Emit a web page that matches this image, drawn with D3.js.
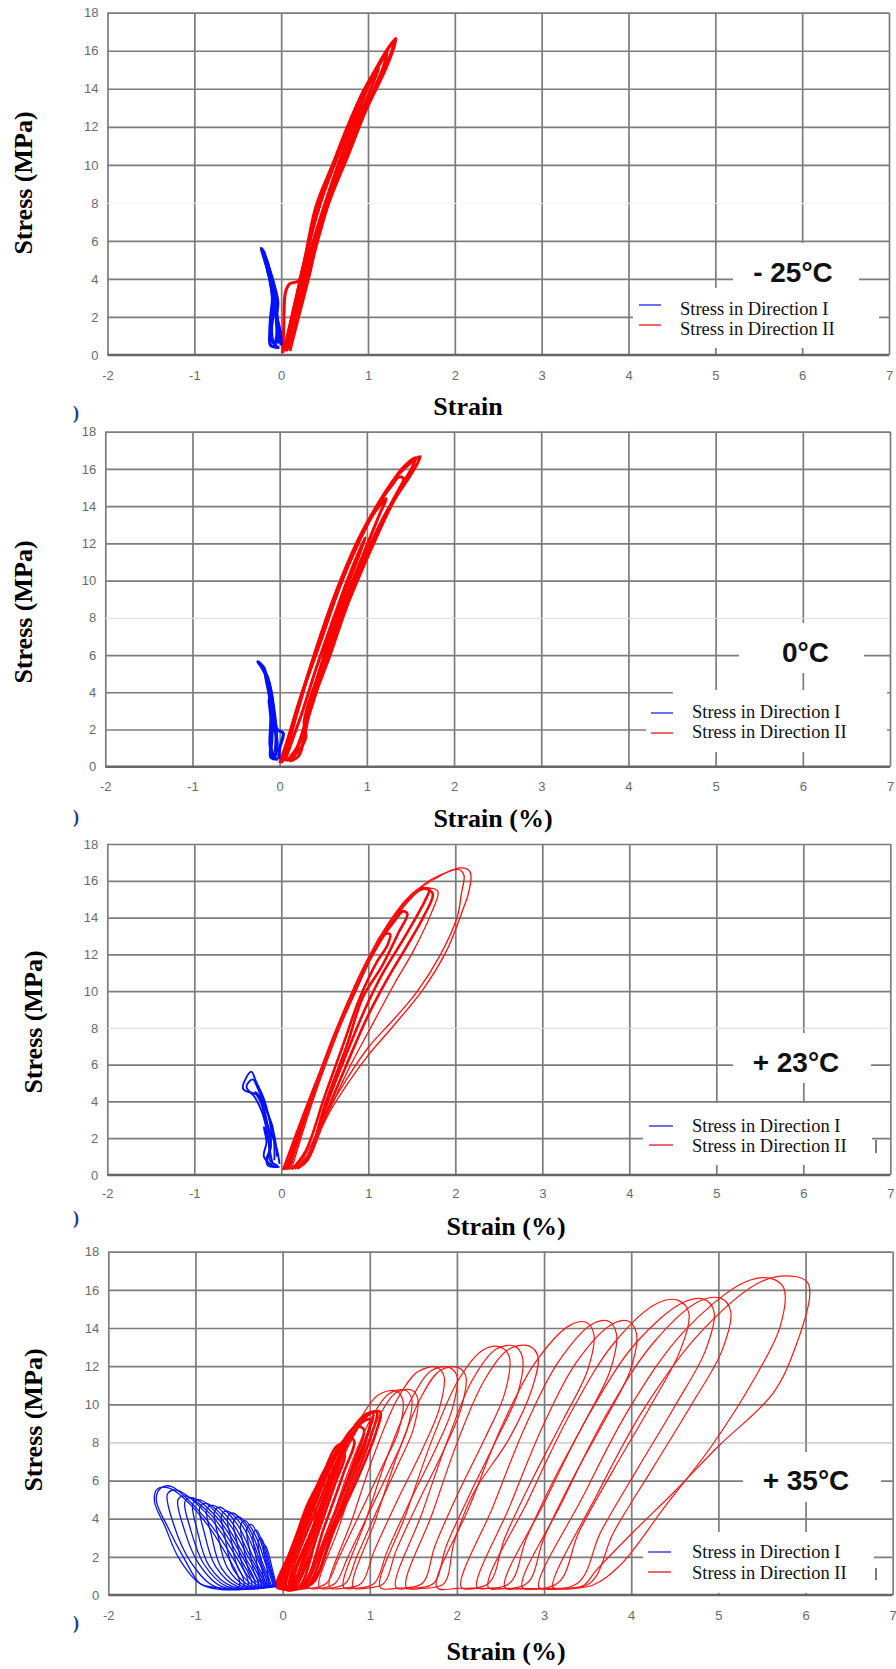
<!DOCTYPE html>
<html>
<head>
<meta charset="utf-8">
<script src="https://cdn.jsdelivr.net/npm/d3@7"></script>
<style>
  body { margin: 0; background: #fff; }
  svg { display: block; }
</style>
</head>
<body>
<svg width="896" height="1669"></svg>
<script>
// ---- chart values (strain %, stress MPa) ----
const strainTicks = [-2, -1, 0, 1, 2, 3, 4, 5, 6, 7];
const stressTicks = [0, 2, 4, 6, 8, 10, 12, 14, 16, 18];
const temperatures = ["- 25°C", "0°C", "+ 23°C", "+ 35°C"];
const strainTitles = ["Strain", "Strain (%)", "Strain (%)", "Strain (%)"];
const stressTitle = "Stress (MPa)";
const seriesNames = ["Stress in Direction I", "Stress in Direction II"];

// -25°C
const redM25 = [
  [[0.02,0.1],[0.03,1.5],[0.05,3.3],[0.1,3.75],[0.2,3.9],[0.25,4.6],[0.4,7.8],[0.6,10.1],[0.92,13.6],[1.15,15.5],[1.32,16.65],[1.3,16.2],[1.2,15.0],[0.98,12.9],[0.75,10.4],[0.5,7.8],[0.33,4.3],[0.2,2.0],[0.1,0.2]],
  [[0.05,0.2],[0.12,1.6],[0.24,4.4],[0.42,7.6],[0.63,10.2],[0.94,13.5],[1.16,15.6],[1.3,16.5],[1.26,15.8],[1.1,14.3],[0.96,12.8],[0.72,10.1],[0.48,7.5],[0.31,4.5],[0.18,1.9],[0.09,0.3]],
  [[0.04,0.3],[0.14,2.4],[0.27,4.9],[0.44,7.9],[0.66,10.6],[0.9,13.2],[1.1,15.0],[1.22,15.9],[1.18,15.2],[1.0,13.2],[0.78,10.6],[0.55,8.0],[0.36,5.0],[0.2,2.3],[0.1,0.4]],
  [[0.06,0.2],[0.16,2.6],[0.3,5.5],[0.46,8.1],[0.7,11.1],[0.95,13.9],[1.12,15.1],[1.05,14.2],[0.85,11.9],[0.62,9.2],[0.42,6.2],[0.25,3.4],[0.12,0.8],[0.06,0.3]],
  [[0.03,0.2],[0.2,3.4],[0.36,6.6],[0.55,9.4],[0.8,12.4],[1.0,14.3],[0.93,13.2],[0.72,10.8],[0.5,7.9],[0.3,4.9],[0.15,2.0],[0.05,0.3]]
];
const blueM25 = [
  [[-0.02,0.4],[-0.12,0.5],[-0.13,1.2],[-0.12,2.0],[-0.1,3.0],[-0.13,4.0],[-0.18,4.9],[-0.23,5.6],[-0.2,5.4],[-0.15,4.7],[-0.09,3.8],[-0.04,2.8],[-0.05,2.0],[-0.01,1.2],[0.0,0.5]],
  [[-0.04,0.35],[-0.1,0.8],[-0.11,1.6],[-0.09,2.5],[-0.11,3.5],[-0.15,4.4],[-0.2,5.2],[-0.17,5.0],[-0.12,4.2],[-0.07,3.3],[-0.06,2.4],[-0.03,1.4],[-0.03,0.6]],
  [[-0.06,0.5],[-0.12,0.9],[-0.1,1.9],[-0.08,2.9],[-0.12,3.9],[-0.16,4.5],[-0.13,4.3],[-0.08,3.4],[-0.06,2.2],[-0.05,1.0],[-0.08,0.45]]
];

// 0°C
const red0 = [
  [[0.0,0.2],[0.1,1.6],[0.23,3.6],[0.46,6.6],[0.69,9.7],[0.92,12.2],[1.15,14.3],[1.38,15.8],[1.61,16.66],[1.58,16.3],[1.45,15.3],[1.3,14.2],[1.05,11.7],[0.8,9.0],[0.57,5.9],[0.34,3.05],[0.2,1.0],[0.12,0.3]],
  [[0.03,0.3],[0.13,1.9],[0.26,4.0],[0.5,7.2],[0.73,10.2],[0.96,12.6],[1.2,14.6],[1.4,16.0],[1.56,16.6],[1.5,15.9],[1.38,15.0],[1.2,13.4],[0.98,11.0],[0.75,8.4],[0.53,5.6],[0.33,2.7],[0.22,1.2],[0.08,0.3]],
  [[0.05,0.3],[0.2,2.9],[0.4,6.0],[0.64,9.3],[0.88,12.0],[1.1,13.9],[1.3,15.2],[1.36,15.55],[1.42,15.5],[1.36,14.8],[1.18,13.3],[0.95,11.0],[0.72,8.3],[0.5,5.3],[0.3,2.3],[0.15,0.4]],
  [[0.02,0.2],[0.18,2.7],[0.36,5.5],[0.6,8.8],[0.85,11.6],[1.05,13.4],[1.22,14.4],[1.14,13.5],[0.94,11.2],[0.7,8.4],[0.46,5.2],[0.28,2.4],[0.3,1.6],[0.24,1.0],[0.1,0.3]],
  [[0.06,0.3],[0.15,1.5],[0.25,2.8],[0.42,5.3],[0.62,8.0],[0.8,10.3],[0.98,12.3],[0.92,11.5],[0.72,9.0],[0.52,6.2],[0.36,3.4],[0.3,2.0],[0.22,0.6],[0.12,0.3]]
];
const blue0 = [
  [[-0.02,0.4],[-0.1,0.5],[-0.09,1.5],[-0.1,2.0],[-0.09,3.0],[-0.12,3.9],[-0.15,4.6],[-0.18,5.3],[-0.25,5.64],[-0.2,5.3],[-0.13,4.6],[-0.09,3.8],[-0.06,2.8],[-0.03,2.0],[0.04,1.8],[0.0,1.0],[-0.01,0.4]],
  [[-0.05,0.4],[-0.1,1.0],[-0.08,2.2],[-0.1,3.3],[-0.13,4.3],[-0.17,5.1],[-0.14,4.8],[-0.1,4.0],[-0.07,3.0],[-0.04,1.9],[-0.05,0.8]],
  [[-0.08,0.45],[-0.11,1.2],[-0.1,2.6],[-0.12,3.6],[-0.09,3.2],[-0.06,2.2],[-0.03,1.2],[-0.06,0.45]]
];

// +23°C
const red23Dense = [
  [[0.02,0.27],[0.25,3.2],[0.52,6.4],[0.79,9.5],[1.05,12.05],[1.15,13.0],[1.25,13.1],[1.22,12.5],[1.1,11.6],[0.9,9.6],[0.72,7.2],[0.5,4.3],[0.28,1.3],[0.12,0.3]],
  [[0.04,0.3],[0.3,3.8],[0.57,7.0],[0.85,10.0],[1.1,12.5],[1.3,13.8],[1.4,14.35],[1.45,14.2],[1.35,13.2],[1.15,11.3],[0.94,9.7],[0.75,7.0],[0.52,4.08],[0.3,1.0],[0.15,0.35]],
  [[0.06,0.3],[0.33,4.0],[0.6,7.5],[0.88,10.5],[1.15,12.8],[1.4,14.6],[1.59,15.5],[1.7,15.55],[1.65,14.9],[1.4,12.8],[1.17,11.0],[0.96,9.0],[0.75,6.6],[0.52,3.8],[0.3,0.9],[0.18,0.35]],
  [[0.08,0.3],[0.36,4.3],[0.64,7.9],[0.92,11.0],[1.2,13.4],[1.45,15.0],[1.62,15.6],[1.74,15.3],[1.63,14.0],[1.45,12.5],[1.2,10.5],[0.98,8.5],[0.75,6.0],[0.52,3.4],[0.3,0.8],[0.2,0.4]]
];
const red23 = [
  [[0.1,0.3],[0.4,4.6],[0.68,8.3],[0.95,11.3],[1.25,13.8],[1.5,15.2],[1.7,15.6],[1.8,15.4],[1.72,14.2],[1.52,12.2],[1.3,10.4],[1.06,8.3],[0.8,6.0],[0.55,3.5],[0.32,1.1],[0.22,0.45]],
  [[0.03,0.3],[0.28,3.5],[0.55,6.8],[0.82,9.9],[1.08,12.4],[1.35,14.3],[1.6,15.6],[1.8,16.2],[1.95,16.55],[2.05,16.6],[2.1,16.3],[2.07,15.3],[2.02,14.0],[1.82,11.9],[1.55,9.9],[1.28,8.4],[1.01,7.0],[0.75,5.2],[0.52,3.35],[0.33,1.54],[0.21,0.64],[0.12,0.35]],
  [[0.12,0.35],[0.36,4.0],[0.63,7.5],[0.9,10.7],[1.17,13.2],[1.45,15.0],[1.7,16.0],[1.9,16.45],[2.05,16.7],[2.15,16.6],[2.18,16.3],[2.15,15.3],[2.1,14.6],[1.9,12.2],[1.63,10.1],[1.28,8.06],[0.98,6.4],[0.59,3.7],[0.29,1.0],[0.17,0.4]]
];
const blue23 = [
  [[-0.02,0.45],[-0.15,0.5],[-0.17,0.9],[-0.13,1.4],[-0.12,2.0],[-0.16,2.8],[-0.2,3.6],[-0.26,4.3],[-0.44,4.7],[-0.345,5.62],[-0.29,5.07],[-0.21,4.26],[-0.15,3.3],[-0.1,2.1],[-0.05,1.4],[-0.02,0.6]],
  [[-0.04,0.5],[-0.13,0.8],[-0.14,1.6],[-0.17,2.5],[-0.22,3.4],[-0.3,4.2],[-0.4,4.8],[-0.33,5.2],[-0.26,4.6],[-0.19,3.8],[-0.12,2.8],[-0.07,1.9],[-0.05,1.0]],
  [[-0.06,0.45],[-0.16,0.7],[-0.12,1.5],[-0.14,2.3],[-0.19,3.2],[-0.24,4.0],[-0.3,4.5],[-0.25,4.3],[-0.17,3.5],[-0.1,2.6],[-0.08,1.6],[-0.08,0.8]],
  [[-0.1,0.5],[-0.2,1.0],[-0.17,1.8],[-0.2,2.6],[-0.16,2.2],[-0.13,1.3],[-0.1,0.6]]
];

// +35°C
const red35Dense = [
  [[-0.07,0.4],[0.08,2.2],[0.24,4.0],[0.33,4.6],[0.38,4.3],[0.3,2.8],[0.15,0.9],[0.04,0.4]],
  [[-0.05,0.4],[0.12,2.6],[0.3,4.9],[0.43,5.8],[0.5,5.6],[0.41,4.2],[0.25,2.1],[0.1,0.4]],
  [[-0.03,0.4],[0.17,3.0],[0.38,5.6],[0.53,6.8],[0.6,6.6],[0.5,5.0],[0.32,2.6],[0.14,0.4]],
  [[-0.01,0.4],[0.21,3.3],[0.45,6.2],[0.63,7.5],[0.71,7.4],[0.6,5.8],[0.4,3.2],[0.18,0.4]],
  [[0.01,0.35],[0.25,3.6],[0.52,6.7],[0.73,8.2],[0.82,8.1],[0.7,6.4],[0.48,3.6],[0.22,0.45]],
  [[0.03,0.35],[0.28,3.8],[0.58,7.1],[0.83,8.8],[0.93,8.7],[0.82,7.0],[0.58,4.1],[0.3,1.0],[0.2,0.4]],
  [[0.05,0.35],[0.31,4.0],[0.64,7.5],[0.93,9.4],[1.04,9.55],[0.98,8.5],[0.78,6.3],[0.53,3.5],[0.3,0.8],[0.22,0.4]],
  [[0.08,0.4],[0.36,4.2],[0.72,7.9],[1.0,9.5],[1.12,9.6],[1.07,8.5],[0.87,6.2],[0.6,3.5],[0.36,0.8],[0.2,0.4]],
  [[0.0,0.35],[0.2,3.0],[0.42,5.8],[0.62,7.8],[0.7,7.9],[0.64,6.6],[0.46,4.0],[0.24,1.2],[0.12,0.35]],
  [[-0.04,0.4],[0.15,2.8],[0.34,5.2],[0.5,6.3],[0.56,6.1],[0.47,4.6],[0.3,2.3],[0.12,0.5]],
  [[0.1,0.4],[0.35,3.6],[0.62,6.8],[0.9,9.0],[1.0,9.2],[0.95,8.0],[0.75,5.6],[0.5,2.8],[0.3,0.6]],
  [[0.12,0.4],[0.38,3.8],[0.68,7.2],[0.98,9.5],[1.08,9.6],[1.02,8.4],[0.82,6.0],[0.56,3.2],[0.34,0.6]]
];
const red35 = [
  [[0.18,0.4],[0.42,3.6],[0.66,6.8],[0.9,9.3],[1.1,10.5],[1.3,10.7],[1.38,10.2],[1.33,8.6],[1.15,6.8],[0.9,4.4],[0.65,2.0],[0.5,0.6],[0.3,0.35]],
  [[0.3,0.4],[0.54,3.6],[0.78,6.8],[1.02,9.3],[1.22,10.55],[1.4,10.75],[1.48,10.3],[1.43,8.7],[1.25,6.8],[1.0,4.4],[0.75,2.0],[0.6,0.6],[0.42,0.35]],
  [[0.42,0.4],[0.65,3.6],[0.88,6.8],[1.1,9.3],[1.3,10.6],[1.48,10.75],[1.55,10.3],[1.5,8.7],[1.32,6.8],[1.08,4.4],[0.85,2.0],[0.72,0.6],[0.54,0.35]],
  [[0.54,0.4],[0.8,4.0],[1.06,7.5],[1.32,10.3],[1.55,11.7],[1.76,11.95],[1.85,11.5],[1.8,9.8],[1.6,7.6],[1.32,5.0],[1.05,2.3],[0.9,0.6],[0.68,0.35]],
  [[0.7,0.4],[0.96,4.0],[1.22,7.5],[1.48,10.3],[1.7,11.75],[1.9,11.95],[2.0,11.5],[1.95,9.8],[1.75,7.6],[1.47,5.0],[1.2,2.3],[1.05,0.6],[0.82,0.35]],
  [[0.81,0.4],[1.07,4.0],[1.33,7.5],[1.58,10.3],[1.8,11.75],[2.0,11.95],[2.1,11.5],[2.05,9.8],[1.85,7.6],[1.57,5.0],[1.3,2.3],[1.16,0.6],[0.95,0.35]],
  [[1.12,0.4],[1.42,4.3],[1.72,8.2],[2.02,11.3],[2.3,12.85],[2.5,13.0],[2.6,12.5],[2.55,10.6],[2.32,8.2],[2.02,5.4],[1.75,2.6],[1.6,0.6],[1.3,0.35]],
  [[1.3,0.4],[1.6,4.3],[1.9,8.2],[2.18,11.3],[2.45,12.9],[2.66,13.05],[2.75,12.5],[2.7,10.6],[2.46,8.2],[2.16,5.4],[1.88,2.6],[1.73,0.6],[1.45,0.35]],
  [[1.42,0.4],[1.72,4.3],[2.02,8.2],[2.32,11.3],[2.6,12.9],[2.83,13.05],[2.93,12.5],[2.86,10.8],[2.6,8.2],[2.19,5.35],[1.97,2.8],[1.85,0.6],[1.6,0.35]],
  [[1.77,0.4],[2.15,4.7],[2.52,8.9],[2.9,12.2],[3.3,14.15],[3.48,14.3],[3.57,13.7],[3.5,11.8],[3.22,9.2],[2.88,6.2],[2.55,3.0],[2.36,0.6],[2.0,0.35]],
  [[2.05,0.4],[2.42,4.7],[2.79,8.9],[3.16,12.2],[3.55,14.2],[3.74,14.35],[3.83,13.7],[3.76,11.8],[3.48,9.2],[3.13,6.2],[2.8,3.0],[2.6,0.6],[2.23,0.35]],
  [[2.23,0.4],[2.61,4.7],[2.99,8.9],[3.37,12.2],[3.78,14.2],[3.97,14.35],[4.06,13.7],[3.99,11.8],[3.7,9.2],[3.34,6.2],[3.0,3.0],[2.8,0.6],[2.36,0.35]],
  [[2.36,0.4],[2.82,5.0],[3.3,9.5],[3.8,13.2],[4.3,15.3],[4.54,15.45],[4.66,14.8],[4.56,12.8],[4.22,9.9],[3.8,6.6],[3.4,3.3],[3.15,0.6],[2.55,0.35]],
  [[2.55,0.4],[3.02,5.0],[3.52,9.5],[4.05,13.2],[4.6,15.35],[4.84,15.5],[4.95,14.85],[4.85,12.8],[4.5,9.9],[4.07,6.6],[3.65,3.3],[3.38,0.6],[2.75,0.35]],
  [[2.75,0.4],[3.22,5.0],[3.72,9.5],[4.25,13.2],[4.78,15.4],[5.03,15.55],[5.14,14.9],[5.04,12.8],[4.68,9.9],[4.24,6.6],[3.8,3.3],[3.52,0.6],[2.94,0.35]],
  [[2.94,0.4],[3.45,5.2],[3.98,9.8],[4.6,13.8],[5.3,16.4],[5.6,16.6],[5.75,16.1],[5.71,14.1],[5.42,11.4],[4.92,7.8],[4.38,4.6],[3.88,1.6],[3.55,0.5],[3.1,0.35]],
  [[3.1,0.4],[3.6,5.2],[4.15,9.8],[4.8,13.8],[5.5,16.45],[5.88,16.7],[6.02,16.4],[6.05,15.85],[5.9,13.2],[5.63,10.6],[5.0,7.8],[4.48,5.35],[4.0,3.2],[3.6,1.3],[3.45,0.5],[3.2,0.35]]
];
const blue35 = [
  [[-0.08,0.45],[-0.12,1.4],[-0.17,2.3],[-0.2,2.6],[-0.22,2.4],[-0.18,1.5],[-0.15,0.6],[-0.1,0.45]],
  [[-0.09,0.45],[-0.14,1.5],[-0.2,2.5],[-0.25,3.0],[-0.28,2.8],[-0.25,1.8],[-0.2,0.7],[-0.12,0.45]],
  [[-0.1,0.45],[-0.16,1.6],[-0.23,2.7],[-0.3,3.4],[-0.34,3.2],[-0.31,2.1],[-0.25,0.8],[-0.15,0.45]],
  [[-0.11,0.45],[-0.18,1.7],[-0.27,3.0],[-0.36,3.7],[-0.41,3.5],[-0.38,2.4],[-0.31,1.0],[-0.18,0.45]],
  [[-0.12,0.45],[-0.2,1.7],[-0.31,3.1],[-0.43,3.9],[-0.48,3.7],[-0.45,2.6],[-0.37,1.1],[-0.22,0.45]],
  [[-0.14,0.45],[-0.24,1.8],[-0.36,3.3],[-0.5,4.1],[-0.56,3.9],[-0.52,2.7],[-0.43,1.2],[-0.26,0.45]],
  [[-0.16,0.45],[-0.27,1.9],[-0.41,3.5],[-0.57,4.3],[-0.63,4.1],[-0.59,2.9],[-0.5,1.3],[-0.31,0.45]],
  [[-0.18,0.45],[-0.3,2.0],[-0.46,3.6],[-0.64,4.4],[-0.7,4.2],[-0.66,3.0],[-0.56,1.3],[-0.36,0.45]],
  [[-0.2,0.45],[-0.34,2.0],[-0.52,3.7],[-0.72,4.6],[-0.78,4.4],[-0.74,3.1],[-0.63,1.4],[-0.41,0.45]],
  [[-0.22,0.45],[-0.38,2.1],[-0.58,3.8],[-0.8,4.7],[-0.87,4.5],[-0.82,3.2],[-0.7,1.4],[-0.46,0.45]],
  [[-0.25,0.45],[-0.42,2.2],[-0.64,3.9],[-0.88,4.8],[-0.95,4.6],[-0.9,3.3],[-0.77,1.5],[-0.52,0.45]],
  [[-0.28,0.45],[-0.46,2.2],[-0.7,4.0],[-0.96,5.0],[-1.03,4.8],[-0.98,3.4],[-0.84,1.5],[-0.58,0.45]],
  [[-0.32,0.45],[-0.5,2.3],[-0.76,4.1],[-1.04,5.1],[-1.12,4.9],[-1.06,3.5],[-0.9,1.6],[-0.64,0.45]],
  [[-0.36,0.45],[-0.55,2.4],[-0.82,4.2],[-1.12,5.2],[-1.2,5.0],[-1.14,3.6],[-0.97,1.7],[-0.7,0.45]],
  [[-0.4,0.45],[-0.6,2.5],[-0.9,4.4],[-1.22,5.5],[-1.32,5.3],[-1.25,3.7],[-1.05,1.7],[-0.78,0.45]],
  [[-0.45,0.45],[-0.66,2.6],[-0.98,4.5],[-1.28,5.7],[-1.4,5.6],[-1.45,5.0],[-1.3,3.4],[-1.14,2.0],[-0.95,0.6],[-0.85,0.45]],
  [[-0.5,0.45],[-0.72,2.7],[-1.05,4.7],[-1.3,5.6],[-1.44,5.55],[-1.47,4.9],[-1.35,3.6],[-1.18,1.85],[-0.91,0.5]]
];

// ---- layout ----
const panels = [
  { x0: 107.5, x1: 889, top: 12.7, bottom: 355, xPad: 16,
    groups: [{loops: redM25, color: "#ff0000", w: 3.0, closed: false}, {loops: blueM25, color: "#0010ff", w: 3.2, closed: false}],
    yTitle: [32, 183], xTitle: [468, 415], temp: [793, 282], tempBox: [733, 243, 126, 45],
    legBoxes: [[633, 288, 246, 60]], leg: {lx: [639, 661], ly: [305, 325], tx: 680, ty: [315, 335]},
    mark: 413, grid8: "#f4f4f4", tick: null },
  { x0: 105.3, x1: 890, top: 431.7, bottom: 766.7, xPad: 15,
    groups: [{loops: red0, color: "#ff0000", w: 3.0, closed: false}, {loops: blue0, color: "#0010ff", w: 3.2, closed: false}],
    yTitle: [32, 612], xTitle: [493, 827], temp: [805.5, 662], tempBox: [739, 623, 125, 50],
    legBoxes: [[673, 690, 214, 62], [646, 700, 27, 45]], leg: {lx: [651, 673], ly: [713, 733], tx: 692, ty: [718, 738]},
    mark: 817, grid8: "#d5e0e6", tick: null },
  { x0: 107.3, x1: 890.3, top: 844, bottom: 1175, xPad: 14,
    groups: [{loops: red23Dense, color: "#ff0000", w: 2.6, closed: false}, {loops: red23, color: "#ff1010", w: 1.3, closed: false},
             {loops: blue23, color: "#0010ff", w: 1.9, closed: false}],
    yTitle: [42, 1022], xTitle: [506, 1235], temp: [796, 1072], tempBox: [733, 1033, 138, 50],
    legBoxes: [[673, 1103, 199, 62], [643, 1115, 30, 45]], leg: {lx: [649, 673], ly: [1126, 1145], tx: 692, ty: [1132, 1152]},
    mark: 1218, grid8: "#f0d2d2", tick: [876, 1140, 1153] },
  { x0: 108.3, x1: 892.7, top: 1251.7, bottom: 1595, xPad: 16,
    groups: [{loops: red35Dense, color: "#ff0000", w: 2.6, closed: true}, {loops: red35, color: "#ff1515", w: 1.2, closed: true},
             {loops: blue35, color: "#0a14ff", w: 1.3, closed: true}],
    yTitle: [42, 1420], xTitle: [506, 1660], temp: [806, 1490], tempBox: [743, 1452, 138, 50],
    legBoxes: [[673, 1532, 201, 61], [643, 1540, 30, 45]], leg: {lx: [648, 671], ly: [1552, 1572], tx: 692, ty: [1558, 1579]},
    mark: 1623, grid8: "#b0b0b0", tick: [876, 1568, 1580] }
];

const gridColor = "#7c7c7c";
const tickFont = "13px 'Liberation Sans', Arial, sans-serif";
const serif = "'Liberation Serif', 'Times New Roman', serif";
const svg = d3.select("svg");

panels.forEach(function(p, i) {
  const x = d3.scaleLinear().domain([-2, 7]).range([p.x0, p.x1]);
  const y = d3.scaleLinear().domain([0, 18]).range([p.bottom, p.top]);
  const g = svg.append("g");

  // vertical grid + strain labels
  const gx = g.append("g").attr("transform", "translate(0," + p.bottom + ")")
    .call(d3.axisBottom(x).tickValues(strainTicks).tickSize(-(p.bottom - p.top))
      .tickPadding(p.xPad).tickFormat(function(d) { return String(d); }));
  gx.select(".domain").remove();
  gx.selectAll(".tick line").attr("stroke", gridColor).attr("stroke-width", 1.7);
  gx.selectAll("text").attr("fill", "#6a6a6a").style("font", tickFont);

  // horizontal grid + stress labels
  const gy = g.append("g").attr("transform", "translate(" + p.x0 + ",0)")
    .call(d3.axisLeft(y).tickValues(stressTicks).tickSize(-(p.x1 - p.x0)).tickPadding(9));
  gy.select(".domain").remove();
  gy.selectAll(".tick line")
    .attr("stroke", function(d) { return d === 8 ? p.grid8 : gridColor; })
    .attr("stroke-width", function(d) { return d === 8 ? 1 : 1.7; })
    .attr("opacity", function(d) { return d === 0 ? 0 : 1; });
  gy.selectAll("text").attr("fill", "#6a6a6a").style("font", tickFont);

  // bottom axis line
  g.append("line").attr("x1", p.x0).attr("x2", p.x1).attr("y1", p.bottom).attr("y2", p.bottom)
    .attr("stroke", "#666").attr("stroke-width", 2.6);

  // white boxes behind the temperature and the legend
  g.append("rect").attr("x", p.tempBox[0]).attr("y", p.tempBox[1])
    .attr("width", p.tempBox[2]).attr("height", p.tempBox[3]).attr("fill", "#fff");
  p.legBoxes.forEach(function(b) {
    g.append("rect").attr("x", b[0]).attr("y", b[1]).attr("width", b[2]).attr("height", b[3]).attr("fill", "#fff");
  });

  // hysteresis loops
  p.groups.forEach(function(grp) {
    const line = d3.line().x(function(d) { return x(d[0]); }).y(function(d) { return y(d[1]); })
      .curve(grp.closed ? d3.curveCatmullRomClosed.alpha(0.5) : d3.curveCatmullRom.alpha(0.5));
    g.append("g").selectAll("path").data(grp.loops).enter().append("path")
      .attr("d", line).attr("fill", "none")
      .attr("stroke", grp.color).attr("stroke-width", grp.w)
      .attr("stroke-linejoin", "round");
  });

  // temperature label
  g.append("text").attr("x", p.temp[0]).attr("y", p.temp[1]).attr("text-anchor", "middle")
    .style("font", "bold 28px 'Liberation Sans', Arial, sans-serif").attr("fill", "#111")
    .text(temperatures[i]);

  // legend
  ["#6f6fe8", "#ec6a6a"].forEach(function(c, k) {
    g.append("line").attr("x1", p.leg.lx[0]).attr("x2", p.leg.lx[1])
      .attr("y1", p.leg.ly[k]).attr("y2", p.leg.ly[k]).attr("stroke", c).attr("stroke-width", 2);
    g.append("text").attr("x", p.leg.tx).attr("y", p.leg.ty[k])
      .style("font", "18.5px " + serif).attr("fill", "#111").text(seriesNames[k]);
  });
  if (p.tick) {
    g.append("line").attr("x1", p.tick[0]).attr("x2", p.tick[0]).attr("y1", p.tick[1]).attr("y2", p.tick[2])
      .attr("stroke", "#555").attr("stroke-width", 1.5);
  }

  // axis titles
  g.append("text").attr("transform", "translate(" + p.yTitle[0] + "," + p.yTitle[1] + ") rotate(-90)")
    .attr("text-anchor", "middle").style("font", "bold 26px " + serif).attr("fill", "#000")
    .text(stressTitle);
  g.append("text").attr("x", p.xTitle[0]).attr("y", p.xTitle[1]).attr("text-anchor", "middle")
    .style("font", "bold 26px " + serif).attr("fill", "#000").text(strainTitles[i]);

  // leftover bracket of the cropped sub-figure label
  svg.append("text").attr("x", 73).attr("y", p.mark + 6)
    .style("font", "bold 18px " + serif).attr("fill", "#1d3c7c").text(")");
});
</script>
</body>
</html>
